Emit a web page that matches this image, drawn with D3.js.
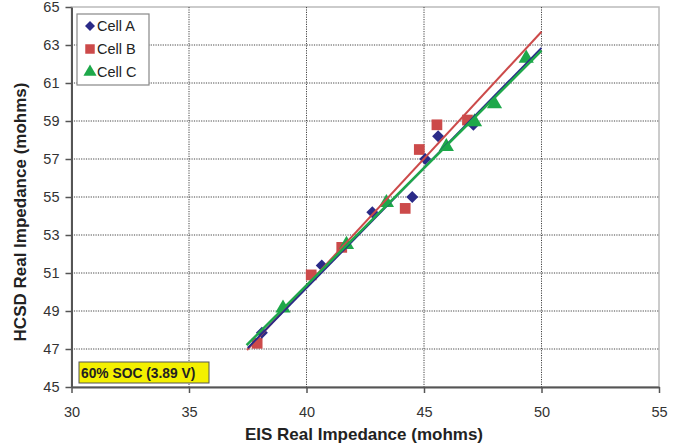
<!DOCTYPE html>
<html><head><meta charset="utf-8">
<script src="https://cdn.jsdelivr.net/npm/d3@7"></script>
<style>body{margin:0;background:#fff;} text{font-family:"Liberation Sans",Arial,sans-serif;}</style>
</head><body><svg id="chart" width="682" height="447"></svg>
<script>
// Measured impedance points (EIS x, HCSD y), mohms
const cellA = [[38.1,47.85],[40.65,51.4],[42.8,54.2],[44.5,55.0],[45.05,57.0],[45.6,58.2],[47.1,58.8]];
const cellB = [[37.9,47.3],[40.2,50.9],[41.5,52.35],[44.2,54.4],[44.8,57.5],[45.55,58.8],[46.85,59.05]];
const cellC = [[39.0,49.15],[41.7,52.5],[43.4,54.7],[45.95,57.65],[47.15,58.95],[48.0,59.9],[49.35,62.3]];
// Linear trend lines, end points
const trendA = [[37.5,47.05],[50,62.85]];
const trendB = [[37.47,46.95],[50,63.7]];
const trendC = [[37.45,47.2],[50,62.7]];
const xTicks = [30,35,40,45,50,55];
const yTicks = [45,47,49,51,53,55,57,59,61,63,65];
const seriesNames = ["Cell A","Cell B","Cell C"];
const annotation = "60% SOC (3.89 V)";

const svg = d3.select("#chart");
const x = d3.scaleLinear().domain([30,55]).range([71.5,659]);
const y = d3.scaleLinear().domain([45,65]).range([387,7]);

// plot frame
svg.append("rect").attr("x",x(30)).attr("y",y(65)).attr("width",x(55)-x(30)).attr("height",y(45)-y(65))
  .attr("fill","#fff").attr("stroke","#bbb").attr("stroke-width",1.5);

// dotted grid
const grid = svg.append("g").attr("stroke","#444").attr("stroke-width",1).attr("stroke-dasharray","1.2,1.2");
grid.selectAll(".gx").data(xTicks.slice(1,-1)).join("line")
  .attr("x1",d=>x(d)).attr("x2",d=>x(d)).attr("y1",y(65)).attr("y2",y(45));
grid.selectAll(".gy").data(yTicks.slice(1,-1)).join("line")
  .attr("x1",x(30)).attr("x2",x(55)).attr("y1",d=>y(d)).attr("y2",d=>y(d));

// axes
const xAxis = d3.axisBottom(x).tickValues(xTicks).tickSize(6).tickSizeOuter(0).tickPadding(14);
const yAxis = d3.axisLeft(y).tickValues(yTicks).tickSize(6).tickSizeOuter(0).tickPadding(6);
const gx = svg.append("g").attr("transform",`translate(0,${y(45)})`).call(xAxis);
const gy = svg.append("g").attr("transform",`translate(${x(30)},0)`).call(yAxis);
[gx,gy].forEach(g=>{
  g.select(".domain").attr("stroke","#555").attr("stroke-width",2);
  g.selectAll(".tick line").attr("stroke","#555").attr("stroke-width",1.5);
  g.selectAll(".tick text").attr("fill","#333").style("font-size","14.5px").style("font-family","Liberation Sans, Arial, sans-serif");
});

// axis titles
svg.append("text").attr("x",364).attr("y",440).attr("text-anchor","middle")
  .style("font-size","17px").style("font-weight","bold").attr("fill","#222")
  .text("EIS Real Impedance (mohms)");
svg.append("text").attr("transform",`translate(26,${(y(45)+y(65))/2 + 15}) rotate(-90)`).attr("text-anchor","middle")
  .style("font-size","17px").style("font-weight","bold").attr("fill","#222")
  .text("HCSD Real Impedance (mohms)");

const colA="#2b2b88", colB="#cc4a4a", colC="#1ea84a";
const line = d3.line().x(d=>x(d[0])).y(d=>y(d[1]));

// marker shapes
const diamondPath = r => `M0,${-r}L${r},0L0,${r}L${-r},0Z`;
const square = d3.symbol().type(d3.symbolSquare).size(115);
const tri = d3.symbol().type(d3.symbolTriangle).size(100);
svg.append("g").selectAll("path").data(cellB).join("path")
  .attr("d",square).attr("transform",d=>`translate(${x(d[0])},${y(d[1])})`).attr("fill",colB);
svg.append("g").selectAll("path").data(cellA).join("path")
  .attr("d",diamondPath(6)).attr("transform",d=>`translate(${x(d[0])},${y(d[1])})`).attr("fill",colA);
svg.append("g").selectAll("path").data(cellC).join("path")
  .attr("d",tri).attr("transform",d=>`translate(${x(d[0])},${y(d[1])})`).attr("fill",colC);

// trend lines
svg.append("path").datum(trendB).attr("d",line).attr("stroke",colB).attr("stroke-width",2).attr("fill","none");
svg.append("path").datum(trendA).attr("d",line).attr("stroke",colA).attr("stroke-width",2).attr("fill","none");
svg.append("path").datum(trendC).attr("d",line).attr("stroke",colC).attr("stroke-width",2.5).attr("fill","none");

// legend
const lg = svg.append("g");
lg.append("rect").attr("x",77).attr("y",14).attr("width",72).attr("height",71)
  .attr("fill","#fff").attr("stroke","#888").attr("stroke-width",1.2);
const syms = [
  {d:diamondPath(5), c:colA},
  {d:d3.symbol().type(d3.symbolSquare).size(90)(), c:colB},
  {d:d3.symbol().type(d3.symbolTriangle).size(75)(), c:colC}
];
seriesNames.forEach((n,i)=>{
  const yy = 26 + i*23;
  lg.append("path").attr("d",syms[i].d).attr("fill",syms[i].c)
    .attr("transform",`translate(90,${yy})`);
  lg.append("text").attr("x",97).attr("y",yy+5).style("font-size","14.5px").attr("fill","#222").text(n);
});

// annotation box
svg.append("rect").attr("x",79).attr("y",362).attr("width",130).attr("height",21)
  .attr("fill","#f4f000").attr("stroke","#555").attr("stroke-width",1);
svg.append("text").attr("x",81).attr("y",377.5).style("font-size","13.8px").style("font-weight","bold")
  .attr("fill","#222").text(annotation);
</script></body></html>
